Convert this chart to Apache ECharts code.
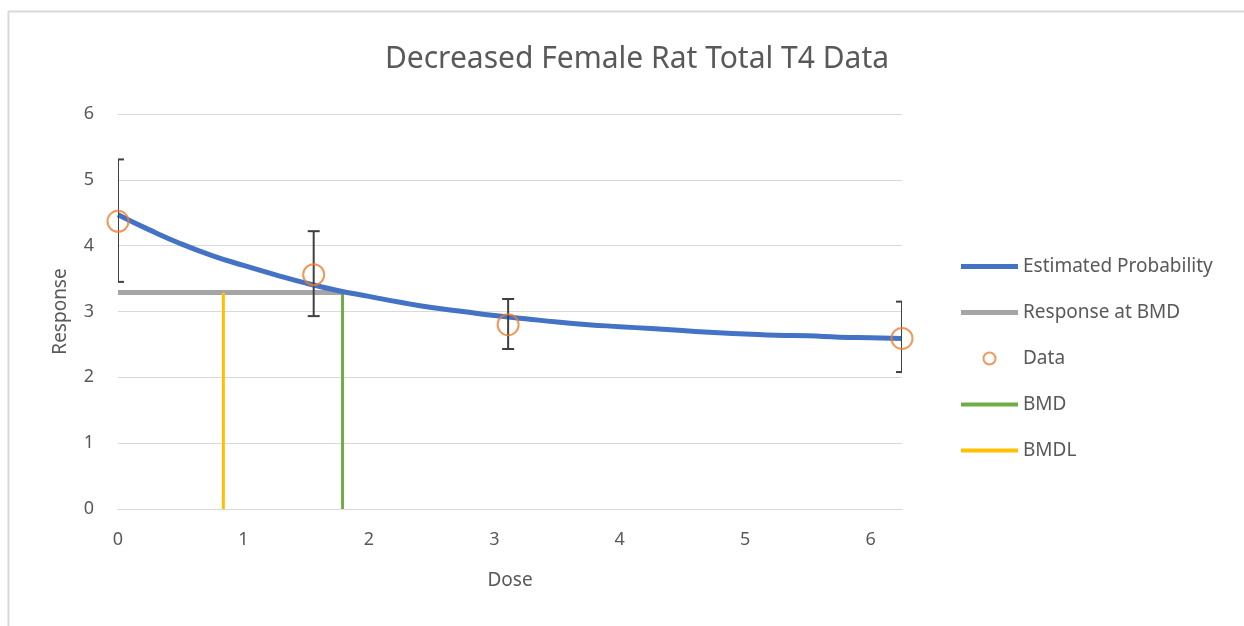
<!DOCTYPE html>
<html>
<head>
<meta charset="utf-8">
<script src="https://cdn.jsdelivr.net/npm/echarts@6/dist/echarts.min.js"></script>
<style>
html,body{margin:0;padding:0;background:#fff;}
#chart{width:1244px;height:626px;}
</style>
</head>
<body>
<div id="chart"></div>
<script>
// Estimated curve
const curveX = [0,0.25,0.5,0.75,1,1.25,1.5,1.75,2,2.25,2.5,2.75,3,3.25,3.5,3.75,4,4.25,4.5,4.75,5,5.25,5.5,5.75,6,6.25];
const curveY = [4.47,4.24,4.03,3.85,3.70,3.56,3.43,3.32,3.23,3.14,3.06,3.00,2.94,2.89,2.84,2.80,2.77,2.74,2.71,2.68,2.66,2.64,2.63,2.61,2.60,2.59];
// Observed data
const doseX = [0,1.56,3.11,6.25];
const respY = [4.37,3.56,2.80,2.59];
const errLow = [3.45,2.93,2.43,2.08];
const errHigh = [5.31,4.22,3.19,3.15];
// Benchmark values
const bmd = 1.79;
const bmdl = 0.84;
const bmdResponse = 3.29;
const yTicks = [0,1,2,3,4,5,6];
const xTicks = [0,1,2,3,4,5,6];
const legendNames = ['Estimated Probability', 'Response at BMD', 'Data', 'BMD', 'BMDL'];

const chart = echarts.init(document.getElementById('chart'));
const font = '"Noto Sans", sans-serif';
const txt = '#595959';
const thickBar = 'path://M0,0 L57,0 L57,5 L0,5 Z';
const thinBar = 'path://M0,0 L57,0 L57,4 L0,4 Z';

const option = {
  backgroundColor: '#fff',
  animation: false,
  graphic: [{
    type: 'rect', silent: true, z: -10,
    shape: {x: 8.5, y: 11.5, width: 1300, height: 700},
    style: {fill: 'none', stroke: '#D9D9D9', lineWidth: 2}
  }],
  title: {
    text: 'Decreased Female Rat Total T4 Data',
    left: 632, top: 39, textAlign: 'center',
    textStyle: {fontFamily: font, fontSize: 30, fontWeight: 'normal', color: txt}
  },
  grid: {left: 118, right: 342, top: 114, bottom: 117},
  xAxis: {
    type: 'value', min: 0, max: 6.25, interval: 1,
    name: 'Dose', nameLocation: 'middle', nameGap: 62,
    nameTextStyle: {fontFamily: font, fontSize: 19, color: txt},
    axisLine: {show: true, lineStyle: {color: '#D9D9D9', width: 1}},
    axisTick: {show: false},
    splitLine: {show: false},
    axisLabel: {fontFamily: font, fontSize: 18, color: txt, margin: 22, showMaxLabel: false,
      formatter: v => xTicks.indexOf(v) >= 0 ? String(v) : ''}
  },
  yAxis: {
    type: 'value', min: 0, max: 6, interval: 1,
    name: 'Response', nameLocation: 'middle', nameGap: 48, nameRotate: 90,
    nameTextStyle: {fontFamily: font, fontSize: 19, color: txt},
    axisLine: {show: false}, axisTick: {show: false},
    splitLine: {lineStyle: {color: '#D9D9D9', width: 1}},
    axisLabel: {fontFamily: font, fontSize: 18, color: txt, margin: 24,
      formatter: v => yTicks.indexOf(v) >= 0 ? String(v) : ''}
  },
  legend: {
    orient: 'vertical', left: 956, top: 252,
    itemWidth: 57, itemHeight: 12, itemGap: 27,
    textStyle: {fontFamily: font, fontSize: 19, color: txt},
    data: [
      {name: legendNames[0], icon: thickBar},
      {name: legendNames[1], icon: thickBar},
      {name: legendNames[2], icon: 'circle'},
      {name: legendNames[3], icon: thinBar},
      {name: legendNames[4], icon: thinBar}
    ]
  },
  series: [
    {
      name: legendNames[0], type: 'line', smooth: true, symbol: 'none',
      data: curveX.map((x, i) => [x, curveY[i]]),
      lineStyle: {color: '#4472C4', width: 5}, itemStyle: {color: '#4472C4'}, z: 3
    },
    {
      name: legendNames[1], type: 'line', symbol: 'none',
      data: [[0, bmdResponse], [bmd, bmdResponse]],
      lineStyle: {color: '#A5A5A5', width: 5}, itemStyle: {color: '#A5A5A5'}, z: 2
    },
    {
      name: legendNames[3], type: 'line', symbol: 'none',
      data: [[bmd, 0], [bmd, bmdResponse]],
      lineStyle: {color: '#70AD47', width: 3}, itemStyle: {color: '#70AD47'}, z: 2
    },
    {
      name: legendNames[4], type: 'line', symbol: 'none',
      data: [[bmdl, 0], [bmdl, bmdResponse]],
      lineStyle: {color: '#FFC000', width: 3}, itemStyle: {color: '#FFC000'}, z: 2
    },
    {
      name: 'ErrorBars', type: 'custom', clip: true, z: 4,
      data: doseX.map((x, i) => [x, errLow[i], errHigh[i]]),
      renderItem: function (params, api) {
        const lo = api.coord([api.value(0), api.value(1)]);
        const hi = api.coord([api.value(0), api.value(2)]);
        const w = 6;
        const st = {stroke: '#404040', lineWidth: 2, fill: 'none'};
        return {
          type: 'group',
          children: [
            {type: 'line', shape: {x1: lo[0], y1: lo[1], x2: hi[0], y2: hi[1]}, style: st},
            {type: 'line', shape: {x1: lo[0] - w, y1: lo[1], x2: lo[0] + w, y2: lo[1]}, style: st},
            {type: 'line', shape: {x1: hi[0] - w, y1: hi[1], x2: hi[0] + w, y2: hi[1]}, style: st}
          ]
        };
      }
    },
    {
      name: legendNames[2], type: 'scatter', symbol: 'circle', symbolSize: 21, z: 5,
      data: doseX.map((x, i) => [x, respY[i]]),
      itemStyle: {color: 'rgba(0,0,0,0)', borderColor: '#ED7D31', borderWidth: 2}
    }
  ]
};
chart.setOption(option);
</script>
</body>
</html>
